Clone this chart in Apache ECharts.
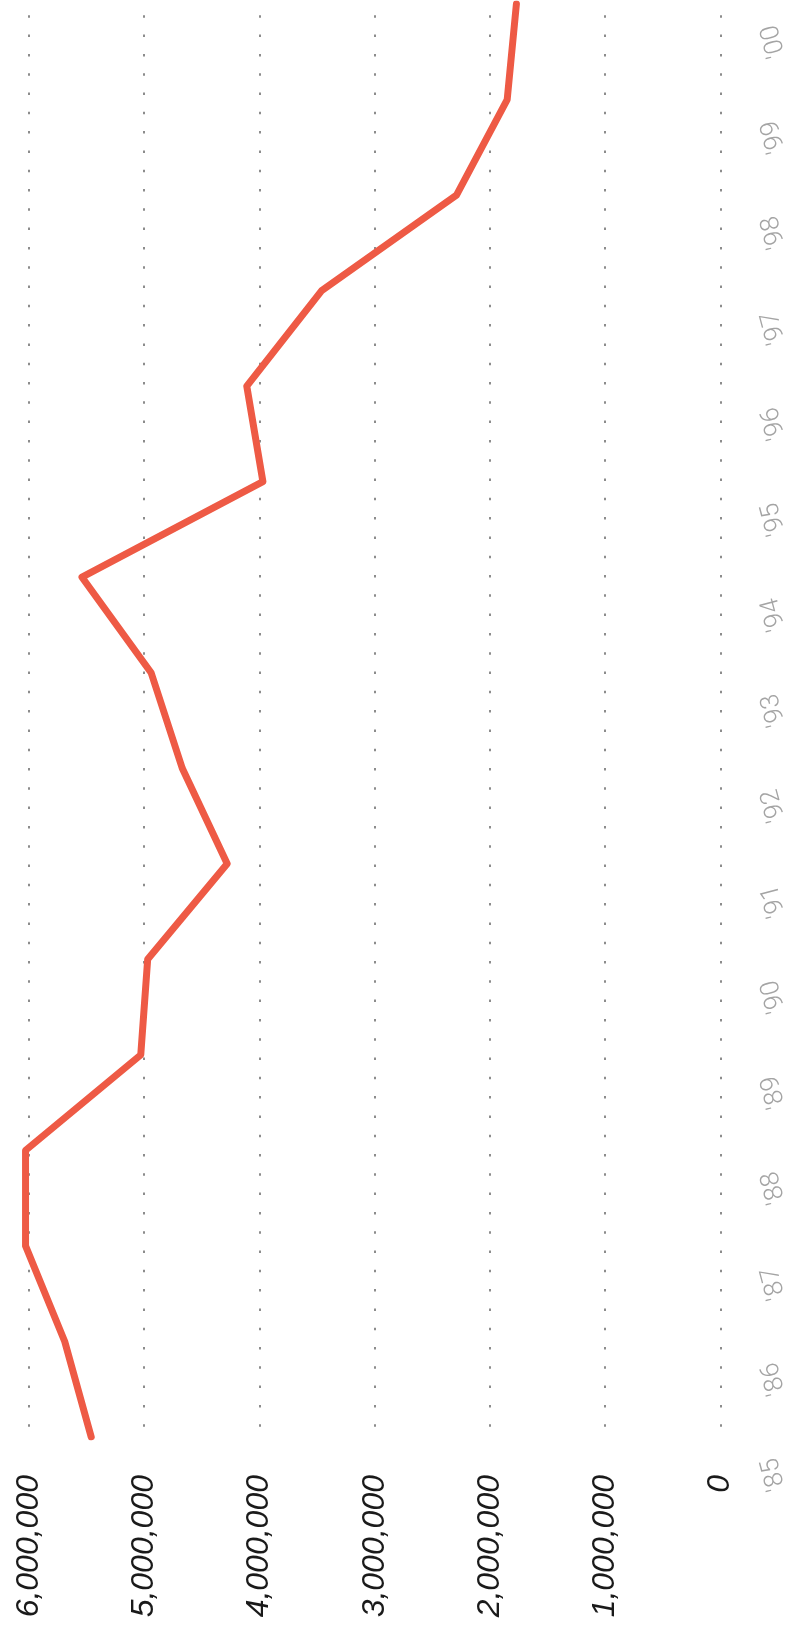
<!DOCTYPE html>
<html>
<head>
<meta charset="utf-8">
<script src="https://cdn.jsdelivr.net/npm/echarts@6/dist/echarts.min.js"></script>
<style>
  html, body { margin: 0; padding: 0; background: #fff; }
  #chart { width: 792px; height: 1630px; }
</style>
</head>
<body>
<div id="chart"></div>
<script>
// years along the side, values along the bottom
var years = ["'85", "'86", "'87", "'88", "'89", "'90", "'91", "'92", "'93", "'94", "'95", "'96", "'97", "'98", "'99", "'00"];
var values = [5460000, 5690000, 6030000, 6030000, 5030000, 4970000, 4280000, 4670000, 4940000, 5540000, 3970000, 4110000, 3460000, 2290000, 1850000, 1770000];
var valueTicks = [0, 1000000, 2000000, 3000000, 4000000, 5000000, 6000000];

var chart = echarts.init(document.getElementById('chart'));

chart.setOption({
  backgroundColor: '#fff',
  animation: false,
  grid: {
    left: 29,
    right: 70,
    top: 4,
    bottom: 193,
    containLabel: false
  },
  xAxis: {
    type: 'value',
    inverse: true,
    position: 'bottom',
    min: valueTicks[0],
    max: valueTicks[valueTicks.length - 1],
    interval: valueTicks[1] - valueTicks[0],
    axisLine: { show: false },
    axisTick: { show: false },
    splitLine: {
      show: true,
      lineStyle: {
        color: '#707070',
        width: 1.6,
        type: [2.5, 16.8],
        dashOffset: 8
      }
    },
    axisLabel: {
      rotate: 90,
      margin: 38,
      color: '#1a1a1a',
      fontSize: 32,
      fontStyle: 'italic',
      fontFamily: 'Liberation Sans, Arial, sans-serif',
      formatter: function (v) {
        return v.toLocaleString('en-US');
      }
    }
  },
  yAxis: {
    type: 'category',
    position: 'right',
    boundaryGap: false,
    data: years,
    axisLine: { show: false },
    axisTick: { show: false },
    splitLine: { show: false },
    axisLabel: {
      rotate: 105,
      margin: 44,
      align: 'right',
      verticalAlign: 'middle',
      padding: [0, 22, 0, 0],
      color: '#a4a4a4',
      fontSize: 26,
      fontWeight: 300,
      fontFamily: 'Roboto, Liberation Sans, sans-serif'
    }
  },
  series: [{
    type: 'line',
    data: values,
    symbol: 'none',
    clip: false,
    lineStyle: {
      color: '#ee5a45',
      width: 7,
      cap: 'round',
      join: 'round'
    }
  }]
});
</script>
</body>
</html>
